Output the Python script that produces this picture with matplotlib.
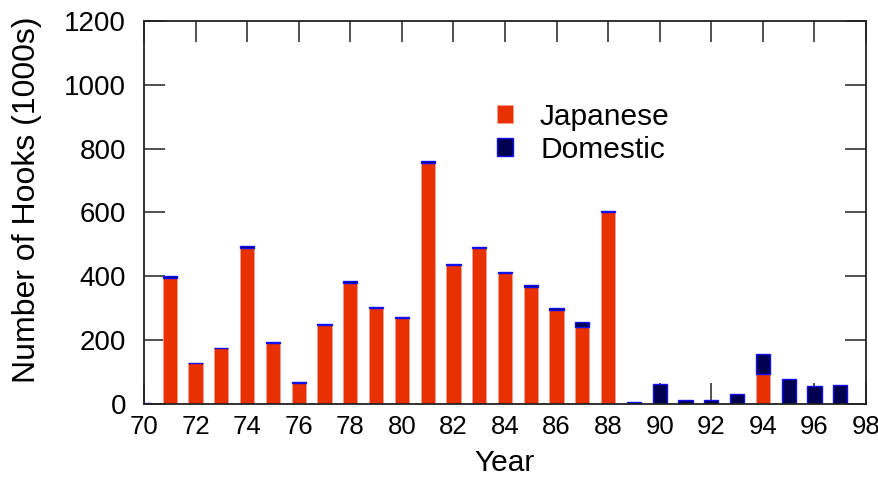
import matplotlib
matplotlib.use("Agg")
import matplotlib.pyplot as plt
from matplotlib.patches import Patch

plt.rcParams['font.family'] = ['Liberation Sans', 'DejaVu Sans']

years = [70, 71, 72, 73, 74, 75, 76, 77, 78, 79, 80, 81, 82, 83,
         84, 85, 86, 87, 88, 89, 90, 91, 92, 93, 94, 95, 96, 97]
japanese = [0, 395, 127, 174, 490, 190, 65, 246, 380, 301, 268, 755, 436, 490,
            410, 368, 295, 240, 601, 0, 0, 0, 0, 0, 95, 0, 0, 0]
domestic = [3, 5, 3, 3, 4, 4, 5, 4, 5, 4, 4, 5, 4, 3,
            5, 4, 5, 18, 4, 6, 62, 12, 12, 30, 61, 77, 57, 61]

x_ticks = list(range(70, 100, 2))
y_ticks = list(range(0, 1400, 200))

red = '#E83000'
navy = '#000050'
blue = '#1010F0'

fig = plt.figure(figsize=(8.79, 4.79), dpi=100)
ax = fig.add_axes([144 / 879, 1 - 404 / 479, (866 - 144) / 879, (404 - 21) / 479])

w = 0.55
ax.bar(years, japanese, width=w, color=red, edgecolor='#F4A090', linewidth=0.6, zorder=2)
ax.bar(years, domestic, width=w, bottom=japanese, color=navy, edgecolor=blue,
       linewidth=1.0, zorder=2)

ax.set_xlim(70, 98)
ax.set_ylim(0, 1200)
ax.set_xticks(x_ticks)
ax.set_yticks(y_ticks)
ax.tick_params(axis='both', direction='in', length=15, width=1.2, color='#333333',
               top=True, right=True)
ax.tick_params(axis='x', labelsize=18.5, pad=8)
ax.tick_params(axis='y', labelsize=20, pad=13)
for s in ax.spines.values():
    s.set_linewidth(1.3)
    s.set_color('#222222')

ax.set_xlabel('Year', fontsize=21.5, labelpad=7)
ax.set_ylabel('Number of Hooks (1000s)', fontsize=23)
ax.yaxis.set_label_coords(-0.141, 0.533)

handles = [Patch(facecolor=red, edgecolor='#F4A090', linewidth=0.6),
           Patch(facecolor=navy, edgecolor=blue, linewidth=1.0)]
ax.legend(handles, ['Japanese', 'Domestic'], loc='upper left',
          bbox_to_anchor=(0.472, 0.817), frameon=False, fontsize=21.5,
          handlelength=0.55, handleheight=0.55, handletextpad=0.9,
          labelspacing=0.15, borderaxespad=0)

fig.savefig('out.png', dpi=100)
